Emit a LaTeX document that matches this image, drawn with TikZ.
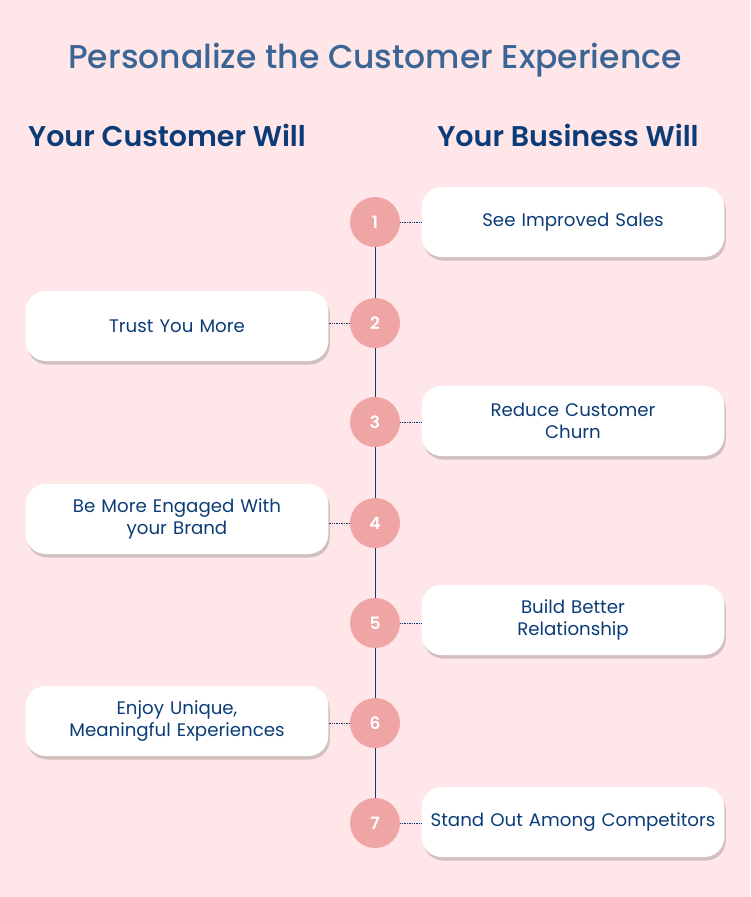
\documentclass[tikz,border=0pt]{standalone}
\usepackage{fontspec}
\setmainfont{Poppins}
\newfontfamily\medfont{Poppins Medium}
\newfontfamily\semifont{Poppins SemiBold}
\usetikzlibrary{shadows}

\definecolor{bgpink}{HTML}{FFE6E8}
\definecolor{dotpink}{HTML}{F0A5A5}
\definecolor{navy}{HTML}{0C3C78}
\definecolor{titleblue}{HTML}{3A6595}

\tikzset{
    stepdot/.style={circle, fill=dotpink, minimum size=50pt, inner sep=0pt, text=white, font=\fontsize{17}{20}\selectfont\semifont},
    card/.style={rectangle, rounded corners=20pt, fill=white, minimum width=300pt, minimum height=70pt, text width=296pt, align=center, text=navy, font=\fontsize{18.2}{22}\selectfont, drop shadow={shadow xshift=1.5pt, shadow yshift=-3.5pt, opacity=0.25, fill=black!70}},
    heading/.style={text=navy, font=\fontsize{28.5}{32}\selectfont\semifont},
    link/.style={navy, densely dotted, line width=0.7pt}
}

\begin{document}
\begin{tikzpicture}[x=1pt, y=-1pt]
                % Background
                \fill[bgpink] (0,0) rectangle (750,897);
                \useasboundingbox (0,0) rectangle (750,897);

                % Titles
                \node[text=titleblue, font=\fontsize{33}{38}\selectfont\medfont] (title) at (375,60) {Personalize the Customer Experience};
                \node[heading] (custhead) at (167,135) {Your Customer Will};
                \node[heading] (bizhead) at (568,135) {Your Business Will};

                % Timeline dots
                \foreach \i/\y in {1/222, 2/323, 3/422, 4/523, 5/623, 6/723, 7/823}
                    \node[stepdot] (d\i) at (375,\y) {\i};
                \draw[navy, line width=0.7pt] (d1) -- (d2) -- (d3) -- (d4) -- (d5) -- (d6) -- (d7);

                % Business side
                \node[card] (b1) at (573,222) {See Improved Sales};
                \node[card] (b3) at (573,421) {Reduce Customer\\Churn};
                \node[card] (b5) at (573,620) {Build Better\\Relationship};
                \node[card] (b7) at (573,822) {Stand Out Among Competitors};

                % Customer side
                \node[card] (c2) at (177,326) {Trust You More};
                \node[card] (c4) at (177,519) {Be More Engaged With\\your Brand};
                \node[card] (c6) at (177,721) {Enjoy Unique,\\Meaningful Experiences};

                % Dotted links
                \foreach \i in {1,3,5,7}
                    \draw[link] (d\i.east) -- (d\i.east -| b\i.west);
                \foreach \i in {2,4,6}
                    \draw[link] (d\i.west) -- (d\i.west -| c\i.east);
            \end{tikzpicture}
\end{document}
